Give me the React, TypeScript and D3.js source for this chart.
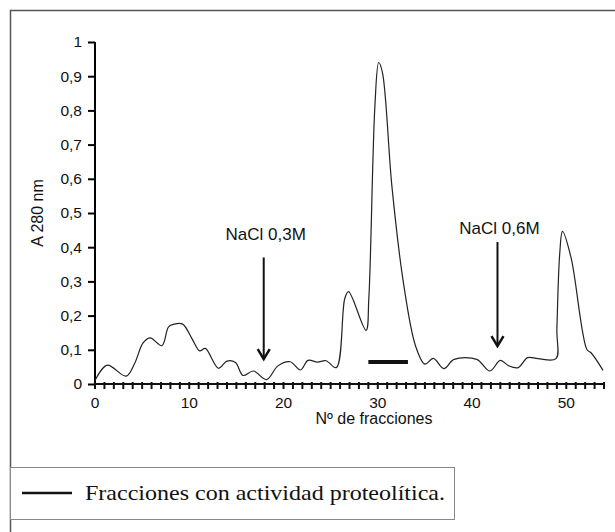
import * as d3 from 'd3';
import React, { useEffect, useRef } from 'react';

// fraction number and absorbance
const fractions = [0, 1.3, 3.3, 4.2, 5.1, 5.85, 7.1, 7.8, 8.4, 9.3, 10.3, 11.1, 11.7, 13.1, 14, 14.9, 15.7, 16.8, 18.2, 19.4, 20.7, 21.8, 22.6, 23.6, 24.5, 25.6, 26.5, 26.9, 28.75, 29.05, 29.7, 30.1, 30.5, 31.5, 32.7, 34, 35, 35.9, 37, 38.1, 40.5, 41.9, 43, 43.9, 44.9, 45.9, 47, 48.9, 49, 49.3, 49.6, 50.5, 52.2, 52.6, 53.9];
const absorbance = [0.01, 0.055, 0.023, 0.06, 0.12, 0.135, 0.112, 0.167, 0.175, 0.175, 0.132, 0.097, 0.104, 0.046, 0.067, 0.063, 0.025, 0.038, 0.013, 0.053, 0.065, 0.041, 0.069, 0.064, 0.068, 0.048, 0.25, 0.27, 0.157, 0.25, 0.816, 0.94, 0.91, 0.578, 0.30, 0.112, 0.058, 0.075, 0.045, 0.072, 0.072, 0.038, 0.069, 0.053, 0.048, 0.077, 0.074, 0.074, 0.16, 0.38, 0.446, 0.37, 0.10, 0.092, 0.04];

const yTicks = [0, 0.1, 0.2, 0.3, 0.4, 0.5, 0.6, 0.7, 0.8, 0.9, 1];
const xLabelTicks = [0, 10, 20, 30, 40, 50];

// NaCl steps: label, fraction, arrow top, arrow tip
const arrows = [
  { label: 'NaCl 0,3M', at: 17.9, top: 0.37, tip: 0.073, labelY: 0.42 },
  { label: 'NaCl 0,6M', at: 42.7, top: 0.415, tip: 0.111, labelY: 0.44 },
];
// fractions with proteolytic activity
const activeRange = [29, 33.2];
const activeLevel = 0.064;

const SANS = "'Liberation Sans', Arial, sans-serif";
const SERIF = "'Liberation Serif', 'Times New Roman', serif";

const App = () => {
  const ref = useRef<SVGSVGElement>(null);

  useEffect(() => {
    const svg = d3.select(ref.current);
    svg.selectAll('*').remove();

    const x = d3.scaleLinear().domain([0, 54]).range([95, 604]);
    const y = d3.scaleLinear().domain([0, 1]).range([384, 42]);

    // outer frame
    svg.append('rect')
      .attr('x', 10.5).attr('y', 10.5).attr('width', 640).attr('height', 560)
      .attr('fill', 'none').attr('stroke', '#555').attr('stroke-width', 1.5);

    // y axis
    svg.append('g')
      .attr('transform', `translate(${x(0)},0)`)
      .call(d3.axisLeft(y).tickValues(yTicks).tickSize(7).tickPadding(6)
        .tickFormat((d) => d3.format('.1f')(+d).replace('.', ',').replace(/^1,0$/, '1').replace(/^0,0$/, '0')))
      .call((g) => g.select('.domain').attr('stroke-width', 2).attr('d', `M0,${y(1)}V${y(0)}`))
      .call((g) => g.selectAll('.tick line').attr('stroke-width', 2))
      .call((g) => g.selectAll('text').attr('font-family', SANS).attr('font-size', 15.5).attr('fill', '#111'));

    // x axis: minor ticks every fraction
    const xg = svg.append('g').attr('transform', `translate(0,${y(0)})`);
    xg.append('line')
      .attr('x1', x(0)).attr('x2', x(54)).attr('stroke', '#111').attr('stroke-width', 2);
    xg.selectAll('.mt').data(d3.range(0, 55)).join('line')
      .attr('x1', (d) => x(d)).attr('x2', (d) => x(d))
      .attr('y1', -2).attr('y2', 5)
      .attr('stroke', '#111').attr('stroke-width', 2);
    xg.selectAll('.lbl').data(xLabelTicks).join('text')
      .attr('x', (d) => x(d)).attr('y', 24)
      .attr('text-anchor', 'middle')
      .attr('font-family', SANS).attr('font-size', 15.5).attr('fill', '#111')
      .text((d) => d);

    // axis titles
    svg.append('text')
      .attr('transform', `translate(43,${y(0.5)}) rotate(-90)`)
      .attr('text-anchor', 'middle')
      .attr('font-family', SANS).attr('font-size', 16).attr('fill', '#111')
      .text('A 280 nm');
    svg.append('text')
      .attr('x', 374).attr('y', 424)
      .attr('text-anchor', 'middle')
      .attr('font-family', SANS).attr('font-size', 16).attr('fill', '#111')
      .text('Nº de fracciones');

    // profile
    const data = fractions.map((f, i) => [f, absorbance[i]] as [number, number]);
    const line = d3.line<[number, number]>()
      .x((d) => x(d[0]))
      .y((d) => y(d[1]))
      .curve(d3.curveCatmullRom.alpha(0.5));
    svg.append('path')
      .datum(data)
      .attr('fill', 'none').attr('stroke', '#222').attr('stroke-width', 1.2)
      .attr('d', line);

    // arrows
    arrows.forEach((a) => {
      const ax = x(a.at);
      svg.append('line')
        .attr('x1', ax).attr('x2', ax).attr('y1', y(a.top)).attr('y2', y(a.tip))
        .attr('stroke', '#111').attr('stroke-width', 2);
      svg.append('path')
        .attr('d', `M${ax - 6},${y(a.tip) - 10}L${ax},${y(a.tip)}L${ax + 6},${y(a.tip) - 10}`)
        .attr('fill', 'none').attr('stroke', '#111').attr('stroke-width', 2.5);
      svg.append('text')
        .attr('x', ax + 2).attr('y', y(a.labelY))
        .attr('text-anchor', 'middle')
        .attr('font-family', SANS).attr('font-size', 17).attr('fill', '#111')
        .text(a.label);
    });

    // activity bar
    svg.append('line')
      .attr('x1', x(activeRange[0])).attr('x2', x(activeRange[1]))
      .attr('y1', y(activeLevel)).attr('y2', y(activeLevel))
      .attr('stroke', '#111').attr('stroke-width', 4);

    // legend
    svg.append('rect')
      .attr('x', 10.5).attr('y', 467.5).attr('width', 444).attr('height', 52)
      .attr('fill', '#fff').attr('stroke', '#888').attr('stroke-width', 1);
    svg.append('line')
      .attr('x1', 22).attr('x2', 72).attr('y1', 493).attr('y2', 493)
      .attr('stroke', '#111').attr('stroke-width', 2.5);
    svg.append('text')
      .attr('x', 85).attr('y', 500)
      .attr('font-family', SERIF).attr('font-size', 21).attr('fill', '#111')
      .attr('textLength', 360).attr('lengthAdjust', 'spacingAndGlyphs')
      .text('Fracciones con actividad proteolítica.');
  }, []);

  return (
    <svg ref={ref} width={615} height={532} style={{ position: 'absolute', left: 0, top: 0, background: '#fff' }} />
  );
};

export default App;
